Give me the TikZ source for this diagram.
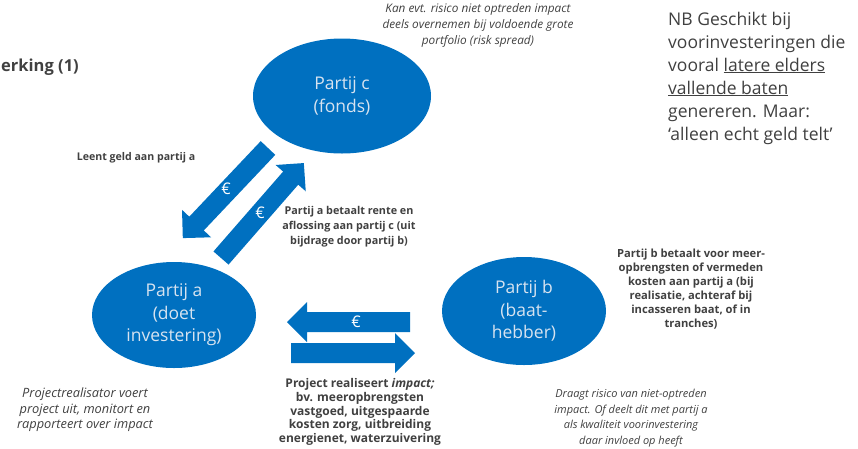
\documentclass[tikz,border=0pt]{standalone}
\usepackage{fontspec}
\setmainfont{Open Sans}
\usetikzlibrary{shapes.geometric}
\definecolor{partyblue}{RGB}{0,112,192}
\definecolor{labelgray}{RGB}{64,64,64}
\definecolor{partytext}{RGB}{215,227,240}
\tikzset{
  party/.style={ellipse, fill=partyblue, text=partytext, inner sep=0pt,
    align=center, font=\fontsize{17.5}{22.5}\selectfont},
  flowtext/.style={text=labelgray, inner sep=0pt, align=center,
    font=\fontsize{10.6}{14.5}\selectfont\bfseries},
  notetext/.style={text=labelgray, inner sep=0pt, align=center,
    font=\fontsize{11}{15.5}\selectfont\itshape},
  euro/.style={text=white, inner sep=0pt, font=\fontsize{16}{16}\selectfont},
}
% block arrow: tail point, length, direction angle
\newcommand\moneyarrow[3]{%
  \begin{scope}[shift={#1}, rotate=#3]
    \fill[partyblue] (0,-10) -- (#2-20,-10) -- (#2-20,-20) -- (#2,0)
      -- (#2-20,20) -- (#2-20,10) -- (0,10) -- cycle;
  \end{scope}}
\begin{document}
\begin{tikzpicture}[x=1pt,y=-1pt]
  \useasboundingbox (0,0) rectangle (858,448);

  % the three parties
  \node[party, minimum width=178pt, minimum height=115pt] (c) at (342,96) {Partij c\\(fonds)};
  \node[party, minimum width=164pt, minimum height=106pt] (a) at (174,315) {Partij a\\(doet\\investering)};
  \node[party, minimum width=164pt, minimum height=108pt] (b) at (524,311) {Partij b\\(baat-\\hebber)};

  % money flows
  \moneyarrow{(268,148)}{124}{226.6}
  \moneyarrow{(221,258)}{126}{48.9}
  \moneyarrow{(410,322)}{123}{180}
  \moneyarrow{(291,353)}{124}{0}
  \node[euro] (e1) at (226,189) {€};
  \node[euro] (e2) at (260,213) {€};
  \node[euro] (e3) at (356,322) {€};

  % labels
  \node[text=labelgray, inner sep=0pt, anchor=east, font=\fontsize{16.5}{16.5}\selectfont\bfseries] (title) at (79,67) {erking (1)};
  \node[notetext, font=\fontsize{11.8}{16}\selectfont\itshape] (spread) at (478,25) {Kan evt. risico niet optreden impact\\deels overnemen bij voldoende grote\\portfolio (risk spread)};
  \node[text=labelgray, inner sep=0pt, anchor=west, align=left, font=\fontsize{17.5}{23}\selectfont] (nb) at (668,78)
    {NB Geschikt bij\\voorinvesteringen die\\vooral \underline{latere elders}\\\underline{vallende baten}\\genereren. Maar:\\‘alleen echt geld telt’};
  \node[flowtext] (lend) at (136,158) {Leent geld aan partij a};
  \node[flowtext, font=\fontsize{10.8}{15}\selectfont\bfseries] (repay) at (349,227) {Partij a betaalt rente en\\aflossing aan partij c (uit\\bijdrage door partij b)};
  \node[flowtext, font=\fontsize{11.2}{14}\selectfont\bfseries] (payb) at (691,289) {Partij b betaalt voor meer-\\opbrengsten of vermeden\\kosten aan partij a (bij\\realisatie, achteraf bij\\incasseren baat, of in\\tranches)};
  \node[flowtext, font=\fontsize{12}{13.6}\selectfont\bfseries] (impact) at (360,412) {Project realiseert \textit{impact;}\\bv. meeropbrengsten\\vastgoed, uitgespaarde\\kosten zorg, uitbreiding\\energienet, waterzuivering};
  \node[notetext, font=\fontsize{12.8}{15.5}\selectfont\itshape] (reala) at (85,410) {Projectrealisator voert\\project uit, monitort en\\rapporteert over impact};
  \node[notetext] (riskb) at (631,418) {Draagt risico van niet-optreden\\impact. Of deelt dit met partij a\\als kwaliteit voorinvestering\\daar invloed op heeft};
\end{tikzpicture}
\end{document}
